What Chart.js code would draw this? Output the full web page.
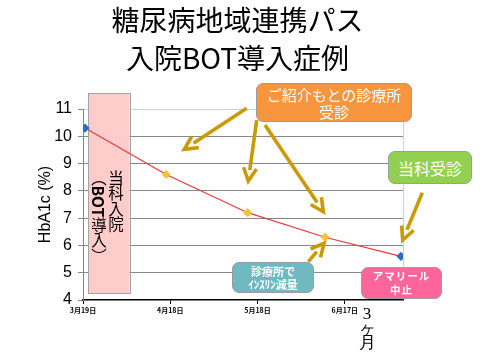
<!DOCTYPE html>
<html>
<head>
<meta charset="utf-8">
<script src="https://cdn.jsdelivr.net/npm/chart.js@4.4.1/dist/chart.umd.min.js"></script>
<style>
  html, body { margin: 0; padding: 0; background: #fff; }
  #wrap { position: relative; width: 480px; height: 360px; overflow: hidden; }
  canvas { position: absolute; left: 0; top: 0; }
  .box { position: absolute; box-sizing: border-box; border: 1px solid #9c9c9c; border-radius: 7px;
         color: #fff; display: flex; align-items: center; justify-content: center; text-align: center;
         font-family: "Noto Sans CJK JP", sans-serif; white-space: nowrap; }
  #svg { position: absolute; left: 0; top: 0; }
  .vt { position: absolute; writing-mode: vertical-rl; font-family: "Noto Sans CJK JP", sans-serif;
        font-size: 15.5px; line-height: 17px; color: #000; white-space: nowrap; }
  .months { position: absolute; font-family: "Liberation Serif", serif; font-size: 17px; line-height: 14.5px;
            text-align: center; color: #000; }
</style>
</head>
<body>
<div id="wrap">
  <canvas id="c" width="480" height="360"></canvas>
  <div class="vt" style="left:90px; top:170px;">当科入院<br>（<b>BOT</b>導入）</div>
  <svg id="svg" width="480" height="360"></svg>
  <div class="box" style="left:256px; top:83px; width:156px; height:39px; background:#f7963f; font-size:15px; line-height:17px;">ご紹介もとの診療所<br>受診</div>
  <div class="box" style="left:388px; top:151px; width:84px; height:33px; background:#92d050; font-size:16px;">当科受診</div>
  <div class="box" style="left:232px; top:262px; width:82px; height:31px; background:#70b9c2; font-size:11px; font-weight:bold; line-height:13px;">診療所で<br>ｲﾝｽﾘﾝ減量</div>
  <div class="box" style="left:361px; top:267px; width:81px; height:32px; background:#fe6699; font-size:10.5px; font-weight:bold; line-height:14px; letter-spacing:1px;">アマリール<br>中止</div>
  <div class="months" style="left:358px; top:307px; width:18px;">3<br>ヶ<br>月</div>
</div>
<script>
// ---- data ----
const titleLines = ['糖尿病地域連携パス', '入院BOT導入症例'];
const yAxisTitle = 'HbA1c (%)';
const days = [0.7, 28.6, 56.6, 83.2, 109.3];      // days since 3/19
const hba1c = [10.3, 8.6, 7.2, 6.3, 5.6];
const tickDays = [0, 30, 60, 90];
const tickLabels = ['3月19日', '4月18日', '5月18日', '6月17日'];
const admission = [1.7, 16];                      // BOT admission period (days)

const blue = '#2a6fc0', gold = '#fcc12c';
const pointColors = days.map((d, i) => (i === 0 || i === days.length - 1) ? blue : gold);

const admissionBox = {
  id: 'admissionBox',
  beforeDatasetsDraw(chart) {
    const { ctx, scales: { x }, chartArea } = chart;
    const x1 = x.getPixelForValue(admission[0]);
    const x2 = x.getPixelForValue(admission[1]);
    const y1 = chartArea.top - 16, y2 = chartArea.bottom - 7;
    ctx.save();
    ctx.fillStyle = '#ffcccc';
    ctx.fillRect(x1, y1, x2 - x1, y2 - y1);
    ctx.strokeStyle = '#a3a3a3';
    ctx.lineWidth = 1;
    ctx.strokeRect(Math.round(x1) + 0.5, Math.round(y1) + 0.5, Math.round(x2 - x1), Math.round(y2 - y1));
    ctx.restore();
  }
};

new Chart(document.getElementById('c'), {
  type: 'line',
  data: {
    datasets: [{
      data: days.map((d, i) => ({ x: d, y: hba1c[i] })),
      borderColor: '#e5383a',
      borderWidth: 1.2,
      pointStyle: 'rectRot',
      pointRadius: 4.6,
      pointBorderWidth: 0,
      pointBackgroundColor: pointColors,
      tension: 0
    }]
  },
  options: {
    responsive: false,
    devicePixelRatio: 1,
    animation: false,
    layout: { padding: { left: 0, top: 0, right: 5, bottom: 0 } },
    plugins: {
      legend: { display: false },
      tooltip: { enabled: false },
      title: {
        display: true,
        text: titleLines,
        color: '#000',
        font: { family: '"Noto Sans CJK JP", sans-serif', size: 28, weight: 'normal', lineHeight: '38px' },
        padding: { top: 1, bottom: 32 }
      }
    },
    scales: {
      x: {
        type: 'linear',
        min: 0,
        max: 110,
        afterBuildTicks(scale) {
          scale.ticks = tickDays.concat([110]).map(v => ({ value: v }));
        },
        afterFit(scale) { scale.height = 60; },
        ticks: {
          autoSkip: false,
          maxRotation: 0,
          padding: 2,
          color: '#000',
          font: { family: '"Noto Sans CJK JP", sans-serif', size: 7, weight: 'bold' },
          callback(v) { const i = tickDays.indexOf(v); return i >= 0 ? tickLabels[i] : ''; }
        },
        grid: {
          drawOnChartArea: true,
          tickLength: 4,
          color: c => (c.tick && c.tick.value === 110) ? '#b4dbe4' : 'rgba(0,0,0,0)',
          tickColor: c => (c.tick && c.tick.value === 110) ? 'rgba(0,0,0,0)' : '#000'
        },
        border: { color: '#000', width: 1.5 }
      },
      y: {
        min: 4,
        max: 11,
        afterFit(scale) { scale.width = 83; },
        ticks: {
          stepSize: 1,
          padding: 6,
          color: '#000',
          font: { family: '"Liberation Sans", Arial, sans-serif', size: 16 }
        },
        grid: {
          tickLength: 5,
          color: c => c.tick.value === 11 ? '#b4dbe4' : (c.tick.value === 4 ? 'rgba(0,0,0,0)' : '#878787'),
          tickColor: '#878787'
        },
        border: { color: '#878787', width: 1 },
        title: {
          display: true,
          text: yAxisTitle,
          color: '#000',
          font: { family: '"Liberation Sans", Arial, sans-serif', size: 16 },
          padding: { top: 36, bottom: 0 }
        }
      },
      ySpace: {
        type: 'linear',
        position: 'right',
        min: 0,
        max: 1,
        afterFit(scale) { scale.width = 72; },
        ticks: { display: false },
        grid: { display: false },
        border: { display: false }
      }
    }
  },
  plugins: [admissionBox]
});

// ---- annotation arrows ----
const arrows = [
  [246.7, 108.3, 184.3, 149.3],
  [256.7, 120, 248.3, 181],
  [265, 125, 323.3, 211.7],
  [422.3, 192.7, 402.7, 240],
  [308.3, 261.7, 324, 243.3]
];
const svg = document.getElementById('svg');
const NS = 'http://www.w3.org/2000/svg';
const col = '#c99a06';
arrows.forEach(([x1, y1, x2, y2]) => {
  const dx = x2 - x1, dy = y2 - y1, L = Math.hypot(dx, dy);
  const ux = dx / L, uy = dy / L, hl = 13, hw = 6.5;
  const bx = x2 - ux * hl, by = y2 - uy * hl;
  const line = document.createElementNS(NS, 'line');
  line.setAttribute('x1', x1); line.setAttribute('y1', y1);
  line.setAttribute('x2', bx + ux * 2); line.setAttribute('y2', by + uy * 2);
  line.setAttribute('stroke', col); line.setAttribute('stroke-width', 3.6);
  svg.appendChild(line);
  const head = document.createElementNS(NS, 'polyline');
  head.setAttribute('points', `${bx - uy * hw},${by + ux * hw} ${x2},${y2} ${bx + uy * hw},${by - ux * hw}`);
  head.setAttribute('fill', 'none');
  head.setAttribute('stroke', col); head.setAttribute('stroke-width', 3.6);
  head.setAttribute('stroke-linejoin', 'miter');
  svg.appendChild(head);
});
</script>
</body>
</html>
